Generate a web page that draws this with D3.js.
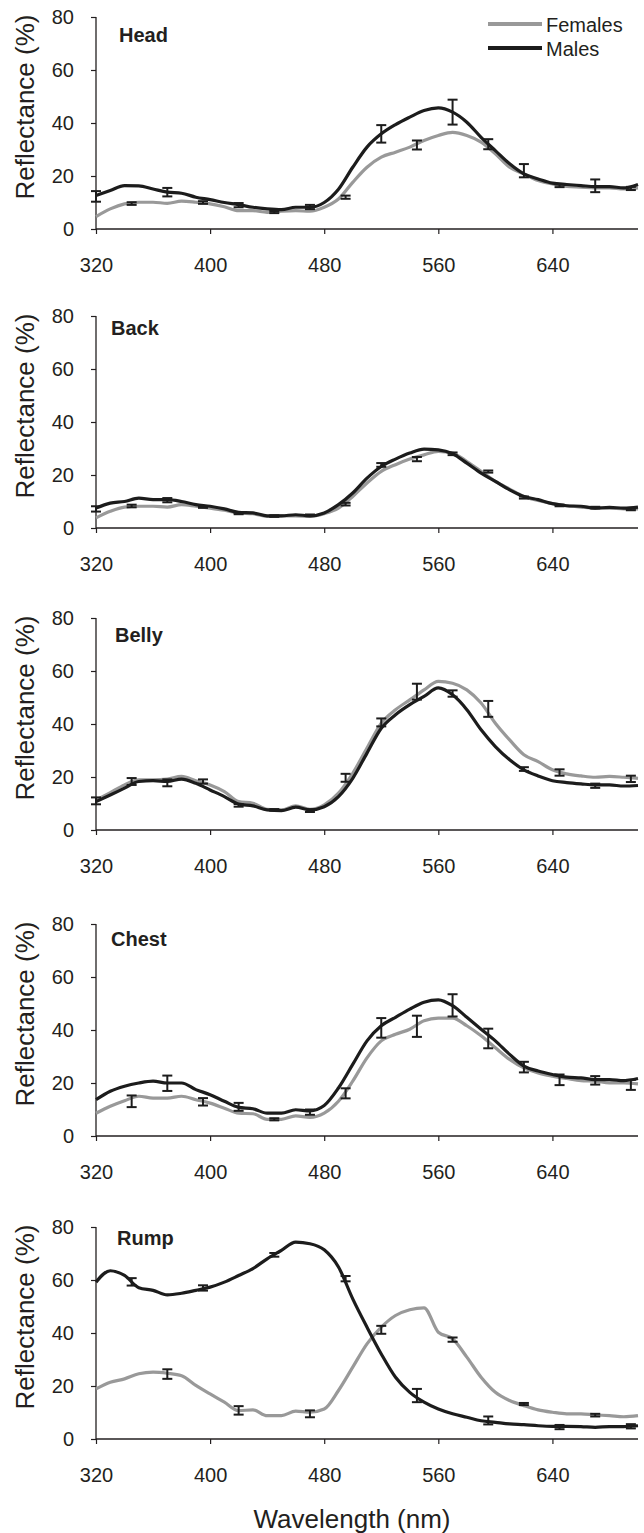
<!DOCTYPE html>
<html>
<head>
<meta charset="utf-8">
<script src="https://cdn.jsdelivr.net/npm/d3@7/dist/d3.min.js"></script>
<style>
  html, body { margin: 0; padding: 0; background: #fff; }
  svg { display: block; font-family: "Liberation Sans", Arial, sans-serif; }
</style>
</head>
<body>
<svg id="chart" width="644" height="1533"></svg>
<script>
// ---------- DATA ----------
const wavelengths = d3.range(320, 701, 10); // 320..700 nm
const xTicks = [320, 400, 480, 560, 640];
const yTicks = [0, 20, 40, 60, 80];
const seriesNames = ["Females", "Males"];
const panelNames = ["Head", "Back", "Belly", "Chest", "Rump"];

const headFemales = [4.7,7.6,9.5,10.1,10.1,9.7,10.5,10.1,9.5,8.4,6.9,6.9,6.3,6.7,6.9,6.7,8.2,11.3,17.6,23.3,27.1,29.0,30.9,33.4,35.3,36.5,35.3,32.8,28.4,23.3,20.8,18.3,17.0,16.1,15.8,15.5,15.5,15.1,15.5];
const headMales   = [12.6,14.5,16.4,16.3,15.1,13.9,13.5,12.0,11.1,10.0,9.2,8.2,7.6,7.3,8.2,8.2,10.0,15.0,23.3,30.9,35.9,39.4,42.2,44.7,45.7,44.1,40.3,34.6,29.6,24.6,20.8,18.9,17.3,16.8,16.4,16.0,16.0,15.5,16.8];

const backFemales = [3.8,6.3,7.9,8.2,8.2,7.9,8.8,8.2,7.5,6.7,5.7,5.4,4.4,4.6,4.6,4.4,5.4,7.5,11.9,17.0,21.4,23.9,26.0,27.6,28.9,28.3,25.1,21.4,17.6,14.7,11.9,10.4,9.2,8.4,7.9,7.5,7.5,7.2,7.2];
const backMales   = [7.5,9.4,10.0,11.3,10.7,10.7,10.0,8.8,8.2,7.2,5.9,5.7,4.6,4.6,5.0,4.6,5.7,8.8,13.2,18.8,23.2,26.0,28.3,29.8,29.5,28.0,24.5,20.7,17.6,14.4,11.9,10.7,9.2,8.4,8.2,7.5,7.8,7.5,7.9];

const bellyFemales = [11.3,14.1,17.0,18.9,18.9,19.2,20.2,18.6,17.0,14.5,10.7,10.1,7.8,7.6,9.1,7.8,9.5,13.9,21.4,30.9,40.3,45.4,49.1,52.9,56.1,55.4,52.9,47.9,40.3,34.0,28.4,25.8,22.7,21.2,20.4,19.9,20.2,19.9,19.5];
const bellyMales   = [10.7,13.2,15.8,18.3,18.6,18.3,19.2,17.6,15.1,12.6,9.8,9.1,7.6,7.3,8.6,7.6,8.8,12.6,19.5,29.0,38.4,43.5,47.3,50.4,53.6,51.0,45.4,37.8,31.5,26.5,22.7,20.4,18.6,17.9,17.4,17.0,17.0,16.6,16.8];

const chestFemales = [8.6,11.2,13.3,15.0,14.3,14.3,15.0,13.7,12.4,10.5,8.6,8.4,6.3,6.3,7.6,7.0,8.6,13.1,20.7,29.5,35.9,38.4,40.3,43.5,44.5,44.5,41.6,37.8,33.3,28.9,25.7,23.8,22.6,21.7,20.9,20.7,20.0,20.0,19.7];
const chestMales   = [13.7,16.9,18.8,20.0,20.7,20.0,20.0,17.5,15.6,13.1,10.8,10.3,8.6,8.6,9.9,9.5,11.5,18.1,27.0,35.9,41.6,44.8,47.9,50.5,51.4,49.2,44.8,40.3,35.9,30.8,26.4,24.5,23.2,22.2,21.9,21.3,21.3,20.9,21.7];

const rumpFemales = [18.9,21.4,22.7,24.6,25.2,24.8,23.9,20.2,17.0,13.9,10.7,11.0,8.8,8.8,10.5,10.1,11.3,18.3,27.1,35.9,42.2,46.6,48.8,49.5,40.3,37.8,30.9,23.3,17.6,14.5,12.6,11.0,10.1,9.5,9.5,9.1,8.8,8.4,8.8];
const rumpMales   = [59.2,63.5,61.7,57.1,56.1,54.4,55.0,56.1,57.3,59.2,61.7,64.3,68.0,71.2,74.3,73.7,71.4,64.9,52.9,42.2,32.1,23.3,17.6,13.9,11.3,9.5,8.2,6.9,6.3,5.7,5.4,5.0,4.8,4.8,4.7,4.4,4.7,4.7,5.0];

// error bars: [wavelength, mean, standard error]
const headFemaleErr = [[345,9.6,0.5],[395,10.0,0.5],[445,6.4,0.4],[495,12.0,0.6],[545,31.7,1.7],[595,32.0,1.9],[645,16.3,0.5],[695,15.3,0.6]];
const headMaleErr   = [[320,12.3,2.0],[370,13.9,1.6],[420,9.0,0.8],[470,8.3,0.8],[520,35.9,3.3],[570,44.1,4.7],[620,22.0,2.5],[670,16.3,2.4]];
const backFemaleErr = [[345,8.3,0.5],[395,7.9,0.3],[445,4.5,0.3],[495,9.0,0.5],[545,26.0,0.8],[595,21.3,0.4],[645,8.5,0.3],[695,7.0,0.3]];
const backMaleErr   = [[320,7.2,1.0],[370,10.5,0.8],[420,5.5,0.3],[470,4.8,0.3],[520,23.8,0.7],[570,28.0,0.5],[620,11.5,0.4],[670,7.7,0.3]];
const bellyFemaleErr = [[345,18.3,1.3],[395,18.3,0.8],[445,7.6,0.3],[495,19.7,1.5],[545,52.2,3.0],[595,45.7,3.0],[645,21.7,1.2],[695,19.3,1.2]];
const bellyMaleErr   = [[320,11.0,1.3],[370,17.8,1.3],[420,9.3,0.5],[470,7.3,0.5],[520,40.6,1.5],[570,51.5,1.2],[620,23.0,0.7],[670,16.7,0.8]];
const chestFemaleErr = [[345,13.1,2.2],[395,12.9,1.4],[445,6.3,0.4],[495,16.1,1.9],[545,41.4,4.0],[595,36.8,3.7],[645,21.2,2.0],[695,19.3,1.9]];
const chestMaleErr   = [[370,19.9,2.9],[420,11.0,1.5],[470,9.0,1.0],[520,40.8,3.7],[570,49.3,4.2],[620,26.0,2.0],[670,21.0,1.6]];
const rumpFemaleErr = [[370,24.5,1.8],[420,10.8,1.6],[470,9.5,1.3],[520,41.2,1.5],[570,37.5,0.8],[620,13.2,0.4],[670,9.0,0.5]];
const rumpMaleErr   = [[345,59.3,1.4],[395,57.0,1.0],[445,69.5,0.7],[495,60.5,1.0],[545,16.4,2.5],[595,7.0,1.5],[645,4.5,0.8],[695,4.8,0.8]];

// ---------- LAYOUT / STYLE ----------
const panels = [
  { name: panelNames[0], f: headFemales,  m: headMales,  fe: headFemaleErr,  me: headMaleErr,  top: 17,   lx: 119, ly: 42 },
  { name: panelNames[1], f: backFemales,  m: backMales,  fe: backFemaleErr,  me: backMaleErr,  top: 316,  lx: 111, ly: 335 },
  { name: panelNames[2], f: bellyFemales, m: bellyMales, fe: bellyFemaleErr, me: bellyMaleErr, top: 618,  lx: 115, ly: 642 },
  { name: panelNames[3], f: chestFemales, m: chestMales, fe: chestFemaleErr, me: chestMaleErr, top: 924,  lx: 111, ly: 946 },
  { name: panelNames[4], f: rumpFemales,  m: rumpMales,  fe: rumpFemaleErr,  me: rumpMaleErr,  top: 1227, lx: 117, ly: 1245 }
];
const panelH = 212;
const x0 = 96, x1 = 638;
const colF = "#999999", colM = "#1c1c1c", ink = "#231f20";

const svg = d3.select("#chart");
const x = d3.scaleLinear().domain([320, 700]).range([x0, x1]);

panels.forEach(p => {
  const y = d3.scaleLinear().domain([0, 80]).range([p.top + panelH, p.top]);
  const g = svg.append("g");

  // axes
  const xAxis = g.append("g")
    .attr("transform", `translate(0,${p.top + panelH})`)
    .call(d3.axisBottom(x).tickValues(xTicks).tickSize(5).tickPadding(24).tickFormat(d3.format("d")));
  const yAxis = g.append("g")
    .attr("transform", `translate(${x0},0)`)
    .call(d3.axisLeft(y).tickValues(yTicks).tickSize(5).tickPadding(17).tickFormat(d3.format("d")));
  [xAxis, yAxis].forEach(a => {
    a.select(".domain").attr("stroke", ink).attr("stroke-width", 1.3);
    a.selectAll(".tick line").attr("stroke", ink).attr("stroke-width", 1.2);
    a.selectAll(".tick text").attr("fill", ink).style("font-size", "20px")
      .style("font-family", '"Liberation Sans", Arial, sans-serif');
  });
  // remove the outer path ends (make domain plain line)
  xAxis.select(".domain").attr("d", `M${x0},0H${x1}`);
  yAxis.select(".domain").attr("d", `M0,${p.top + panelH}V${p.top}`);

  // y-axis title
  g.append("text")
    .attr("transform", `translate(34,${p.top + 90}) rotate(-90)`)
    .attr("text-anchor", "middle")
    .attr("fill", ink)
    .style("font-size", "26px")
    .text("Reflectance (%)");

  // panel label
  g.append("text")
    .attr("x", p.lx).attr("y", p.ly)
    .attr("fill", ink)
    .style("font-size", "20px").style("font-weight", "bold")
    .text(p.name);

  const line = d3.line()
    .x((d, i) => x(wavelengths[i]))
    .y(d => y(d))
    .curve(d3.curveMonotoneX);

  g.append("path").datum(p.f).attr("d", line)
    .attr("fill", "none").attr("stroke", colF).attr("stroke-width", 3.2).attr("stroke-linejoin", "round");
  g.append("path").datum(p.m).attr("d", line)
    .attr("fill", "none").attr("stroke", colM).attr("stroke-width", 3.2).attr("stroke-linejoin", "round");

  // error bars
  const errs = p.fe.concat(p.me);
  const eb = g.append("g").attr("stroke", colM).attr("stroke-width", 2);
  errs.forEach(([w, m, se]) => {
    const cx = x(w), yt = y(m + se), yb = y(m - se);
    eb.append("line").attr("x1", cx).attr("x2", cx).attr("y1", yt).attr("y2", yb);
    eb.append("line").attr("x1", cx - 5).attr("x2", cx + 5).attr("y1", yt).attr("y2", yt);
    eb.append("line").attr("x1", cx - 5).attr("x2", cx + 5).attr("y1", yb).attr("y2", yb);
  });
});

// legend
const legend = svg.append("g");
seriesNames.forEach((s, i) => {
  const ly = 24 + i * 24;
  legend.append("line").attr("x1", 488).attr("x2", 542).attr("y1", ly).attr("y2", ly)
    .attr("stroke", i === 0 ? colF : colM).attr("stroke-width", 4);
  legend.append("text").attr("x", 546).attr("y", ly + 7.5)
    .attr("fill", ink).style("font-size", "20px").text(s);
});

// x-axis title
svg.append("text")
  .attr("x", 352).attr("y", 1528)
  .attr("text-anchor", "middle")
  .attr("fill", ink)
  .style("font-size", "26px")
  .text("Wavelength (nm)");
</script>
</body>
</html>
